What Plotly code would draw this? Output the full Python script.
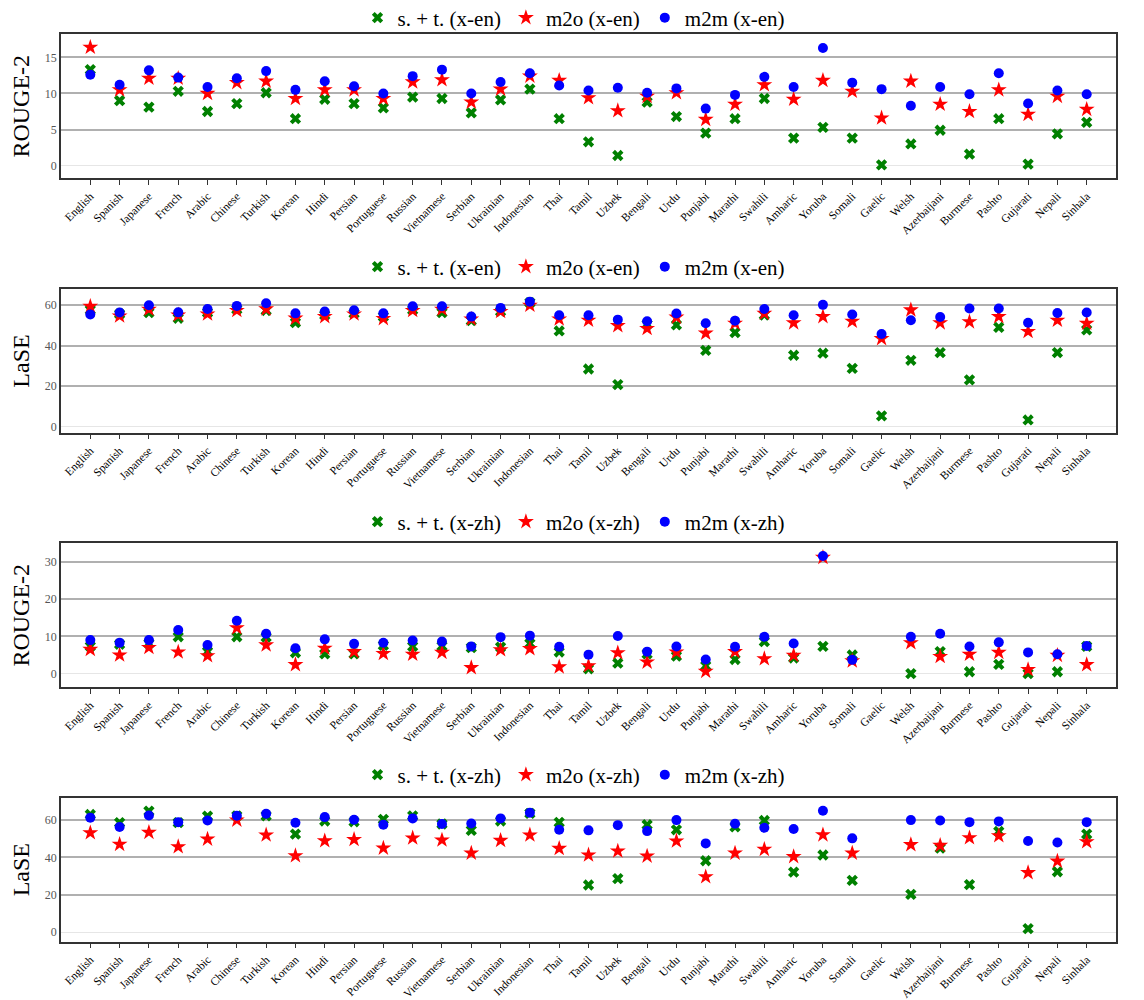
import plotly.graph_objects as go

languages = ["English", "Spanish", "Japanese", "French", "Arabic", "Chinese", "Turkish",
             "Korean", "Hindi", "Persian", "Portuguese", "Russian", "Vietnamese", "Serbian",
             "Ukrainian", "Indonesian", "Thai", "Tamil", "Uzbek", "Bengali", "Urdu", "Punjabi",
             "Marathi", "Swahili", "Amharic", "Yoruba", "Somali", "Gaelic", "Welsh",
             "Azerbaijani", "Burmese", "Pashto", "Gujarati", "Nepali", "Sinhala"]

# ROUGE-2, x-en
st_rouge_en = [13.3, 9.0, 8.1, 10.3, 7.5, 8.6, 10.1, 6.5, 9.2, 8.6, 8.0, 9.5, 9.3, 7.3, 9.1,
               10.6, 6.5, 3.3, 1.4, 8.8, 6.8, 4.5, 6.5, 9.3, 3.8, 5.3, 3.8, 0.1, 3.0, 4.9,
               1.6, 6.5, 0.2, 4.4, 6.0]
m2o_rouge_en = [16.4, 10.5, 12.1, 12.1, 10.0, 11.5, 11.7, 9.3, 10.5, 10.5, 9.3, 11.6, 11.9, 8.8,
                10.6, 12.4, 11.8, 9.4, 7.6, 9.6, 10.1, 6.4, 8.5, 11.2, 9.2, 11.8, 10.3, 6.6,
                11.7, 8.5, 7.5, 10.5, 7.1, 9.6, 7.8]
m2m_rouge_en = [12.6, 11.2, 13.2, 12.2, 10.9, 12.1, 13.1, 10.5, 11.7, 11.0, 10.0, 12.4, 13.3, 10.0,
                11.6, 12.8, 11.1, 10.4, 10.8, 10.1, 10.7, 7.9, 9.8, 12.3, 10.9, 16.3, 11.5, 10.6,
                8.3, 10.9, 9.9, 12.8, 8.6, 10.4, 9.9]

# LaSE, x-en
st_lase_en = [57.7, 55.7, 56.4, 53.6, 56.4, 58.0, 57.4, 51.4, 55.1, 56.0, 54.4, 57.7, 56.4, 52.4,
              57.0, 61.3, 47.3, 28.5, 20.8, 50.6, 50.3, 37.7, 46.5, 55.2, 35.3, 36.3, 28.8, 5.3,
              32.8, 36.6, 23.1, 49.1, 3.3, 36.6, 47.8]
m2o_lase_en = [59.5, 54.7, 58.0, 55.2, 55.7, 57.4, 58.2, 53.6, 54.4, 55.7, 53.4, 57.4, 58.0, 53.2,
               56.9, 60.0, 53.2, 52.6, 49.9, 48.5, 54.1, 46.2, 51.1, 56.0, 51.3, 54.4, 52.1, 43.5,
               57.7, 51.3, 51.8, 54.4, 47.0, 52.6, 51.1]
m2m_lase_en = [55.5, 56.4, 60.0, 56.5, 58.2, 59.7, 61.0, 56.0, 56.9, 57.5, 56.0, 59.5, 59.5, 54.4,
               58.7, 61.8, 55.1, 55.1, 52.9, 52.1, 55.9, 51.1, 52.4, 58.2, 55.1, 60.2, 55.4, 45.8,
               52.6, 54.2, 58.4, 58.4, 51.4, 56.2, 56.4]

# ROUGE-2, x-zh
st_rouge_zh = [7.3, 7.9, 8.1, 9.9, 5.9, 9.9, 9.8, 5.6, 5.3, 5.3, 7.6, 7.3, 7.4, 7.0, 7.1, 8.1,
               5.8, 1.3, 2.8, 5.3, 4.7, 2.1, 3.8, 8.6, 4.2, 7.3, 5.0, None, 0.0, 5.9, 0.5, 2.5,
               0.0, 0.5, 7.3]
m2o_rouge_zh = [6.5, 5.0, 7.0, 5.8, 4.8, 12.3, 7.7, 2.4, 6.8, 5.9, 5.4, 5.2, 5.7, 1.6, 6.4, 6.7,
                1.8, 2.1, 5.6, 3.1, 5.8, 0.6, 5.9, 4.0, 4.9, 31.2, 3.4, None, 8.3, 4.6, 5.2, 5.7,
                1.1, 4.9, 2.4]
m2m_rouge_zh = [9.0, 8.3, 9.0, 11.7, 7.7, 14.2, 10.7, 6.8, 9.2, 8.0, 8.3, 8.9, 8.6, 7.3, 9.8,
                10.2, 7.2, 5.1, 10.1, 5.9, 7.3, 3.8, 7.2, 9.9, 8.1, 31.6, 3.7, None, 9.9, 10.7,
                7.3, 8.4, 5.7, 5.2, 7.4]

# LaSE, x-zh
st_lase_zh = [63.0, 58.6, 64.8, 58.6, 62.1, 62.3, 62.3, 52.5, 59.5, 59.1, 60.4, 62.3, 57.9, 54.5,
              59.5, 63.6, 58.8, 25.2, 28.6, 57.5, 54.8, 38.2, 56.4, 59.8, 32.1, 41.3, 27.7, None,
              20.2, 45.0, 25.4, 53.9, 1.8, 32.3, 52.5]
m2o_lase_zh = [53.2, 47.0, 53.4, 45.7, 49.8, 60.0, 52.0, 40.9, 48.9, 49.6, 45.0, 50.4, 49.3, 42.3,
               49.1, 52.0, 44.8, 41.3, 43.4, 40.7, 48.8, 29.6, 42.3, 44.3, 40.4, 52.1, 42.3, None,
               46.8, 46.4, 50.5, 51.6, 31.8, 38.0, 48.4]
m2m_lase_zh = [61.3, 56.3, 62.5, 58.9, 59.8, 62.3, 63.4, 58.6, 61.6, 60.2, 57.5, 60.9, 57.9, 58.2,
               60.9, 63.9, 54.8, 54.5, 57.3, 54.1, 60.0, 47.5, 58.0, 55.9, 55.2, 65.0, 50.2, None,
               60.0, 59.8, 58.9, 59.3, 48.8, 48.0, 58.9]

# The page body has an 8px margin: the figure is drawn 8px in from the window corner.
PAGE_OFF = 8
W, H = 1144 - PAGE_OFF, 1000 - PAGE_OFF
X_LEFT, X_RIGHT = 61 - PAGE_OFF, 1116 - PAGE_OFF
FONT = "Liberation Serif, DejaVu Serif, serif"


def py(px):
    """window pixel row -> paper fraction"""
    return 1 - (px - PAGE_OFF) / H


panels = [
    dict(st=st_rouge_en, m2o=m2o_rouge_en, m2m=m2m_rouge_en, tag="x-en", ytitle="ROUGE-2",
         yrange=[-1.76, 18.2], ticks=[0, 5, 10, 15], top=34.3, bottom=178.3, leg=18),
    dict(st=st_lase_en, m2o=m2o_lase_en, m2m=m2m_lase_en, tag="x-en", ytitle="LaSE",
         yrange=[-3.0, 67.9], ticks=[0, 20, 40, 60], top=289.3, bottom=432.7, leg=267),
    dict(st=st_rouge_zh, m2o=m2o_rouge_zh, m2m=m2m_rouge_zh, tag="x-zh", ytitle="ROUGE-2",
         yrange=[-3.67, 35.0], ticks=[0, 10, 20, 30], top=543.3, bottom=687.3, leg=522),
    dict(st=st_lase_zh, m2o=m2o_lase_zh, m2m=m2m_lase_zh, tag="x-zh", ytitle="LaSE",
         yrange=[-5.18, 72.0], ticks=[0, 20, 40, 60], top=797.7, bottom=941.7, leg=775),
]

series_styles = [
    ("st", "s. + t.", dict(symbol="x", color="#008000", size=10)),
    ("m2o", "m2o", dict(symbol="star", color="#ff0000", size=12)),
    ("m2m", "m2m", dict(symbol="circle", color="#0000ff", size=10)),
]

fig = go.Figure()
layout = dict(
    width=W, height=H,
    margin=dict(l=0, r=0, t=0, b=0, autoexpand=False),
    paper_bgcolor="white", plot_bgcolor="white",
    font=dict(family=FONT, color="black"),
)

for i, p in enumerate(panels):
    n = i + 1
    sfx = "" if n == 1 else str(n)
    legname = "legend" if n == 1 else f"legend{n}"
    for key, label, mk in series_styles:
        fig.add_trace(go.Scatter(
            x=languages, y=p[key], mode="markers",
            name=f"{label} ({p['tag']})",
            marker=dict(symbol=mk["symbol"], color=mk["color"], size=mk["size"],
                        line=dict(width=0)),
            xaxis=f"x{sfx}", yaxis=f"y{sfx}", legend=legname,
        ))
    layout[f"xaxis{sfx}"] = dict(
        domain=[X_LEFT / W, X_RIGHT / W], anchor=f"y{sfx}", automargin=False,
        type="category", categoryorder="array", categoryarray=languages,
        range=[-1, 35], tickangle=-45, ticks="outside", ticklen=5, tickwidth=1,
        tickcolor="#333", tickfont=dict(family=FONT, size=11.5, color="black"),
        showgrid=False, showline=True, linecolor="#333", linewidth=1.5, mirror=True,
        zeroline=False,
    )
    layout[f"yaxis{sfx}"] = dict(
        domain=[py(p["bottom"]), py(p["top"])], anchor=f"x{sfx}", automargin=False,
        range=p["yrange"], tickvals=p["ticks"], ticks="",
        tickfont=dict(family=FONT, size=12, color="#555"),
        showgrid=True, gridcolor="#b0b0b0", gridwidth=1.5,
        zeroline=True, zerolinecolor="#e6e6e6", zerolinewidth=1,
        showline=True, linecolor="#333", linewidth=1.5, mirror=True,
        title=dict(text=p["ytitle"], font=dict(family=FONT, size=24, color="black"),
                   standoff=12),
    )
    layout[legname] = dict(
        orientation="h", x=(574 - PAGE_OFF) / W, xanchor="center", y=py(p["leg"]),
        yanchor="middle",
        font=dict(family=FONT, size=21, color="black"), bgcolor="rgba(0,0,0,0)",
        itemsizing="trace",
    )

fig.update_layout(**layout)
fig.write_html("out.html")
